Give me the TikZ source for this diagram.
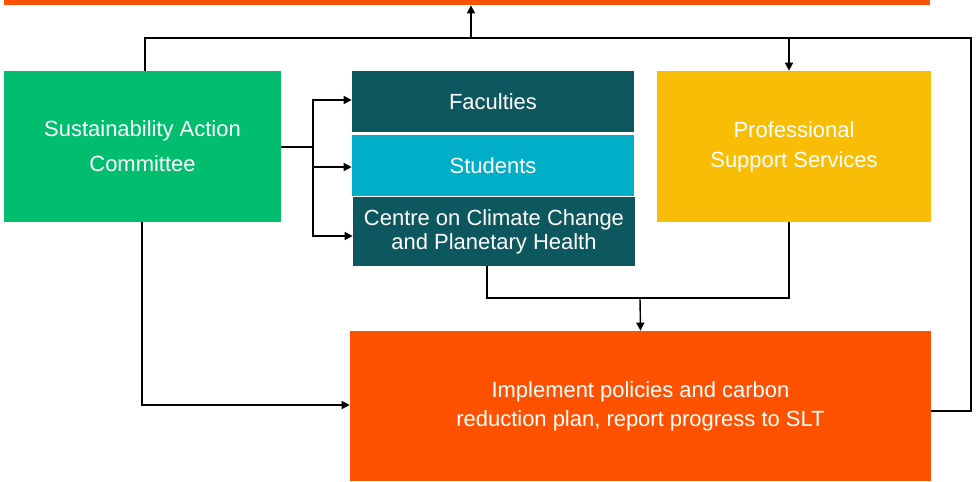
\documentclass[tikz,border=0pt]{standalone}
\usepackage{fontspec}
\setmainfont{Liberation Sans}
\usetikzlibrary{arrows.meta}
\definecolor{sacgreen}{HTML}{00BE6E}
\definecolor{darkteal}{HTML}{0D585E}
\definecolor{poolblue}{HTML}{00AEC8}
\definecolor{pssyellow}{HTML}{F8BE05}
\definecolor{implorange}{HTML}{FF5200}
\begin{document}
\begin{tikzpicture}[x=0.02cm,y=-0.02cm,>={Triangle[length=1.6mm,width=1.6mm]}]
        \tikzstyle{block}=[rectangle,inner sep=0pt,text=white,align=center,font={\fontsize{12.5}{20}\selectfont}]
        \tikzstyle{edge}=[draw,line width=0.8pt]
        \useasboundingbox (0,0) rectangle (978,481);
        % boxes
        \node [block,fill=implorange,minimum width=18.52cm,minimum height=0.1cm] (top) at (467,2.5) {};
        \node [block,fill=sacgreen,minimum width=5.54cm,minimum height=3.02cm] (sac) at (142.5,146.5) {Sustainability Action\\Committee};
        \node [block,fill=darkteal,minimum width=5.64cm,minimum height=1.22cm] (fac) at (493,101.5) {Faculties};
        \node [block,fill=poolblue,minimum width=5.64cm,minimum height=1.22cm] (stu) at (493,165.5) {Students};
        \node [block,fill=darkteal,minimum width=5.64cm,minimum height=1.38cm,font={\fontsize{12.5}{13.6}\selectfont}] (ccc) at (494,231.5) {Centre on Climate Change\\and Planetary Health};
        \node [block,fill=pssyellow,minimum width=5.48cm,minimum height=3.02cm,font={\fontsize{12.5}{17}\selectfont}] (pss) at (794,146.5) {Professional\\Support Services};
        \node [block,fill=implorange,minimum width=11.62cm,minimum height=3cm,font={\fontsize{12.5}{16.5}\selectfont}] (imp) at (640.5,406) {Implement policies and carbon\\reduction plan, report progress to SLT};
        % helper points
        \coordinate (loop) at (971,38);
        \coordinate (split) at (313,147);
        \coordinate (merge) at (640,298);
        % connectors
        \path[edge] (imp.east |- 0,411) -| (loop) -| (145,0 |- sac.north);
        \path[edge,->] (471,38) -- (471,0 |- top.south);
        \path[edge,->] (789,38) -- (789,0 |- pss.north);
        \path[edge] (sac.east |- split) -- (split);
        \path[edge,->] (split) |- (fac.west |- 0,100);
        \path[edge,->] (split) |- (stu.west |- 0,167);
        \path[edge,->] (split) |- (ccc.west |- 0,236);
        \path[edge,->] (142,0 |- sac.south) |- (imp.west |- 0,405);
        \path[edge] (487,0 |- ccc.south) |- (merge) -| (789,0 |- pss.south);
        \path[edge,->] (merge) -- (imp.north);
\end{tikzpicture}
\end{document}
